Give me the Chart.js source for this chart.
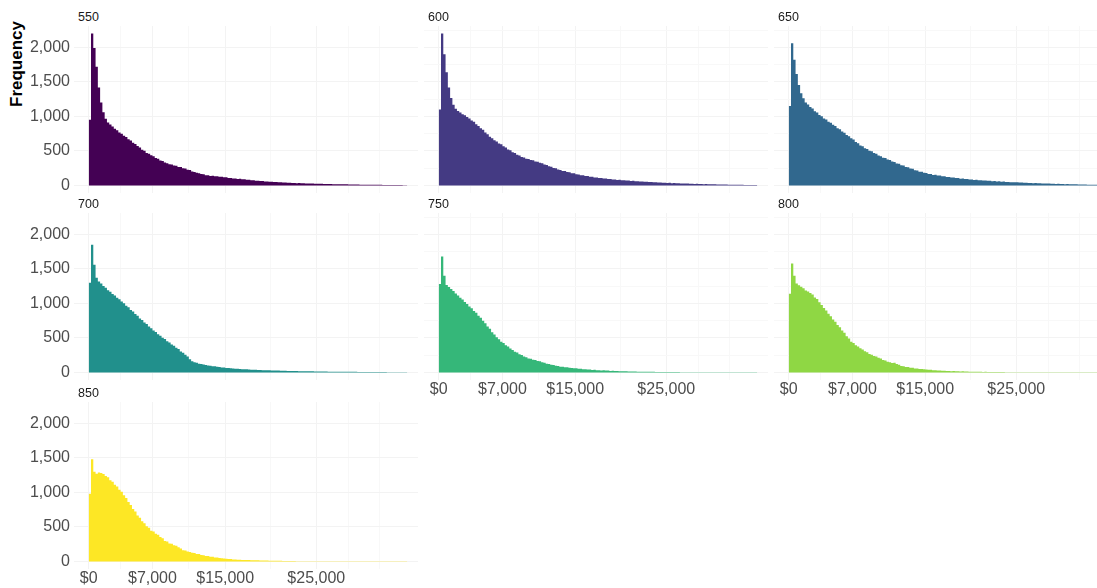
<!DOCTYPE html>
<html>
<head>
<meta charset="utf-8">
<script src="https://cdn.jsdelivr.net/npm/chart.js@4.4.1/dist/chart.umd.min.js"></script>
<style>
  html, body { margin: 0; padding: 0; background: #fff; }
  body { width: 1097px; height: 588px; position: relative; overflow: hidden; font-family: "Liberation Sans", Arial, sans-serif; }
  canvas { position: absolute; }
  .strip { position: absolute; font-size: 12.5px; line-height: 14px; color: #1a1a1a; white-space: nowrap; }
  #ytitle { position: absolute; left: -33px; top: 54px; width: 100px; height: 20px; line-height: 20px;
            text-align: center; font-weight: bold; font-size: 17px; color: #000; transform: rotate(-90deg); }
</style>
</head>
<body>
<div id="ytitle">Frequency</div>
<script>
// histogram bins of $250, starting at $0
const BIN_WIDTH = 250;

const scoreGroups = ['550', '600', '650', '700', '750', '800', '850'];
const groupColors = ['#440154', '#443a83', '#31688e', '#21908c', '#35b779', '#8fd744', '#fde725'];

const counts550 = [
  950, 2200, 1990, 1720, 1420, 1200, 1060, 965, 912, 884,
  852, 820, 798, 768, 748, 720, 701, 668, 652, 618,
  601, 570, 551, 518, 502, 468, 458, 436, 423, 398,
  388, 362, 355, 331, 322, 306, 302, 288, 284, 268,
  266, 250, 244, 226, 223, 202, 196, 182, 178, 164,
  162, 148, 147, 138, 140, 131, 132, 124, 126, 117,
  118, 109, 108, 101, 100, 94, 95, 88, 88, 82,
  81, 75, 75, 69, 68, 63, 63, 58, 58, 53,
  53, 49, 49, 45, 46, 42, 42, 39, 39, 35,
  36, 33, 34, 30, 31, 28, 29, 26, 27, 25,
  24, 23, 23, 21, 22, 19, 20, 18, 18, 17,
  16, 16, 15, 15, 14, 13, 14, 12, 12, 11,
  11, 10, 11, 9, 10, 9, 8, 9, 8, 7,
  7, 7, 6, 6, 6, 5, 5, 5, 4, 4
];
const counts600 = [
  1100, 2200, 1900, 1640, 1420, 1265, 1168, 1112, 1078, 1058,
  1032, 1018, 990, 971, 942, 921, 888, 862, 830, 805,
  768, 741, 704, 683, 654, 635, 607, 595, 567, 551,
  522, 508, 482, 469, 445, 433, 412, 406, 387, 383,
  367, 363, 347, 343, 327, 321, 302, 295, 277, 271,
  253, 247, 229, 225, 209, 207, 193, 190, 177, 175,
  161, 159, 148, 147, 138, 136, 126, 124, 116, 116,
  108, 108, 100, 99, 92, 92, 86, 86, 80, 81,
  75, 75, 70, 71, 65, 66, 60, 61, 56, 57,
  52, 53, 48, 49, 45, 46, 42, 43, 39, 40,
  36, 37, 33, 34, 30, 31, 28, 29, 26, 27,
  24, 25, 22, 23, 20, 21, 18, 19, 17, 17,
  16, 15, 14, 14, 13, 12, 12, 11, 10, 10,
  9, 9, 8, 8, 7, 7, 6, 6, 5, 5
];
const counts650 = [
  1150, 2060, 1820, 1615, 1455, 1335, 1262, 1200, 1174, 1136,
  1114, 1076, 1056, 1021, 1002, 971, 956, 924, 909, 878,
  861, 828, 812, 781, 764, 731, 714, 682, 664, 630,
  612, 578, 566, 538, 526, 501, 494, 468, 459, 434,
  424, 401, 396, 374, 368, 346, 340, 318, 314, 292,
  288, 268, 264, 244, 240, 220, 216, 198, 197, 182,
  181, 166, 166, 152, 153, 142, 142, 132, 132, 123,
  123, 114, 114, 106, 106, 98, 99, 92, 93, 86,
  86, 80, 81, 75, 76, 70, 71, 66, 67, 62,
  63, 57, 59, 53, 55, 50, 51, 46, 47, 44,
  44, 41, 41, 38, 38, 35, 36, 33, 34, 30,
  31, 28, 29, 26, 27, 24, 25, 22, 23, 20,
  21, 18, 19, 16, 17, 15, 15, 13, 14, 12,
  12, 11, 11, 10, 10, 9, 9, 8, 8, 7
];
const counts700 = [
  1300, 1850, 1560, 1370, 1318, 1288, 1252, 1228, 1192, 1168,
  1137, 1115, 1082, 1061, 1027, 1003, 967, 944, 905, 881,
  845, 822, 782, 758, 723, 700, 665, 641, 607, 587,
  553, 533, 502, 483, 453, 435, 405, 388, 357, 338,
  302, 285, 255, 232, 190, 162, 149, 141, 127, 121,
  113, 109, 101, 97, 90, 88, 81, 79, 72, 70,
  65, 63, 59, 57, 53, 52, 49, 47, 45, 44,
  41, 40, 38, 37, 36, 35, 33, 32, 31, 30,
  29, 28, 27, 26, 25, 24, 23, 22, 21, 20,
  20, 19, 18, 18, 17, 16, 16, 15, 15, 14,
  14, 13, 13, 12, 12, 11, 11, 11, 10, 10,
  10, 9, 9, 9, 9, 8, 8, 8, 7, 7,
  7, 7, 6, 6, 6, 6, 5, 5, 5, 5,
  5, 4, 4, 4, 4, 4, 4, 3, 3, 3
];
const counts750 = [
  1280, 1680, 1400, 1268, 1238, 1207, 1178, 1142, 1115, 1082,
  1058, 1019, 993, 955, 928, 890, 863, 822, 793, 747,
  711, 665, 631, 582, 548, 509, 481, 445, 425, 395,
  375, 345, 325, 298, 287, 263, 253, 231, 221, 201,
  197, 183, 180, 167, 162, 147, 140, 126, 122, 111,
  108, 96, 92, 83, 82, 74, 73, 66, 65, 59,
  59, 53, 53, 47, 47, 41, 41, 36, 37, 33,
  33, 29, 30, 26, 27, 22, 23, 19, 20, 17,
  18, 15, 16, 13, 14, 12, 13, 11, 11, 10,
  10, 9, 9, 8, 8, 7, 7, 6, 6, 6,
  6, 5, 5, 5, 5, 5, 4, 4, 4, 4,
  4, 4, 4, 4, 3, 3, 3, 3, 3, 3,
  3, 3, 3, 3, 3, 3, 3, 3, 3, 3,
  3, 3, 3, 3, 3, 3, 3, 3, 3, 3
];
const counts800 = [
  1140, 1580, 1400, 1288, 1262, 1243, 1218, 1188, 1174, 1152,
  1128, 1087, 1063, 1017, 978, 932, 898, 849, 815, 767,
  733, 687, 653, 607, 573, 525, 491, 445, 425, 395,
  377, 349, 333, 307, 293, 267, 257, 237, 229, 211,
  201, 179, 172, 155, 148, 138, 140, 122, 112, 94,
  88, 78, 77, 68, 67, 58, 58, 50, 50, 44,
  43, 38, 38, 33, 33, 28, 28, 24, 25, 21,
  22, 18, 19, 16, 17, 14, 15, 12, 13, 11,
  11, 9, 10, 8, 9, 7, 8, 6, 7, 6,
  6, 5, 5, 5, 5, 4, 4, 4, 4, 3,
  3, 3, 3, 3, 3, 3, 3, 3, 3, 3,
  2, 2, 2, 2, 2, 2, 2, 2, 2, 2,
  2, 2, 2, 2, 2, 2, 2, 2, 2, 2,
  2, 2, 2, 2, 2, 2, 2, 2, 2, 2
];
const counts850 = [
  980, 1480, 1300, 1272, 1288, 1282, 1268, 1236, 1218, 1176,
  1153, 1110, 1085, 1040, 1008, 957, 918, 860, 818, 760,
  722, 665, 632, 583, 552, 510, 486, 445, 432, 400,
  388, 352, 334, 296, 288, 260, 255, 234, 227, 205,
  186, 162, 157, 142, 138, 125, 122, 109, 106, 93,
  90, 80, 77, 68, 66, 57, 56, 48, 47, 41,
  40, 35, 34, 29, 29, 25, 25, 21, 21, 19,
  19, 17, 17, 15, 15, 14, 14, 12, 12, 10,
  10, 9, 9, 8, 8, 7, 7, 6, 6, 5,
  5, 4, 4, 4, 4, 3, 3, 3, 3, 3,
  3, 3, 3, 3, 2, 2, 2, 2, 2, 2,
  2, 2, 2, 2, 2, 2, 2, 2, 2, 2,
  2, 2, 2, 2, 2, 2, 2, 2, 2, 2,
  2, 2, 2, 2, 2, 2, 2, 2, 2, 2
];
const allCounts = [counts550, counts600, counts650, counts700, counts750, counts800, counts850];

// gridlines (major + minor) and the ones that carry a label
const yGridValues = [0, 250, 500, 750, 1000, 1250, 1500, 1750, 2000, 2250];
const yLabelValues = [0, 500, 1000, 1500, 2000];
const xGridValues = [0, 3500, 7000, 11000, 15000, 20000, 25000, 28500, 32000];
const xLabelValues = [0, 7000, 15000, 25000];

const Y_MIN = -110, Y_MAX = 2310;
const X_MIN = -1620, X_MAX = 36180;

// panel geometry (px)
const PANEL_W = 344, PANEL_H = 167, AXIS_W = 74, AXIS_H = 30;
const colLeft = [74, 424, 774];
const rowTop = [26, 213, 402];
const FONT = '"Liberation Sans", Arial, sans-serif';

const fmt = v => v.toLocaleString('en-US');

function toPoints(counts) {
  const pts = counts.map((c, i) => ({ x: i * BIN_WIDTH, y: c }));
  pts.push({ x: counts.length * BIN_WIDTH, y: counts[counts.length - 1] });
  return pts;
}

// very faint, like theme_minimal after downscaling
function gridColor(majors) {
  return ctx => (ctx.tick && majors.includes(ctx.tick.value)) ? '#f3f3f3' : '#f8f8f8';
}

scoreGroups.forEach((name, i) => {
  const row = Math.floor(i / 3), col = i % 3;
  const showY = col === 0;
  const showX = i >= 4;

  const canvas = document.createElement('canvas');
  canvas.width = AXIS_W + PANEL_W;
  canvas.height = PANEL_H + AXIS_H;
  canvas.style.left = (colLeft[col] - AXIS_W) + 'px';
  canvas.style.top = rowTop[row] + 'px';
  document.body.appendChild(canvas);

  const strip = document.createElement('div');
  strip.className = 'strip';
  strip.textContent = name;
  strip.style.left = (colLeft[col] + 4) + 'px';
  strip.style.top = (rowTop[row] - 16) + 'px';
  document.body.appendChild(strip);

  new Chart(canvas, {
    type: 'line',
    data: {
      datasets: [{
        data: toPoints(allCounts[i]),
        stepped: 'before',
        fill: 'origin',
        backgroundColor: groupColors[i],
        borderColor: 'rgba(0,0,0,0)',
        borderWidth: 0,
        pointRadius: 0,
        tension: 0
      }]
    },
    options: {
      responsive: false,
      animation: false,
      events: [],
      layout: { autoPadding: false, padding: 0 },
      plugins: { legend: { display: false }, tooltip: { enabled: false } },
      scales: {
        x: {
          type: 'linear',
          min: X_MIN,
          max: X_MAX,
          border: { display: false },
          grid: { color: gridColor(xLabelValues), drawTicks: false },
          ticks: {
            display: showX,
            autoSkip: false,
            maxRotation: 0,
            padding: 0,
            color: '#4d4d4d',
            font: { size: 16, family: FONT },
            callback: v => xLabelValues.includes(v) ? '$' + fmt(v) : ''
          },
          afterBuildTicks: ax => { ax.ticks = xGridValues.map(v => ({ value: v })); },
          afterFit: ax => { ax.height = AXIS_H; ax.paddingLeft = 0; ax.paddingRight = 0; }
        },
        y: {
          min: Y_MIN,
          max: Y_MAX,
          border: { display: false },
          grid: { color: gridColor(yLabelValues), drawTicks: false },
          ticks: {
            display: showY,
            padding: 4,
            color: '#4d4d4d',
            font: { size: 16, family: FONT },
            callback: v => yLabelValues.includes(v) ? fmt(v) : ''
          },
          afterBuildTicks: ax => { ax.ticks = yGridValues.map(v => ({ value: v })); },
          afterFit: ax => { ax.width = AXIS_W; ax.paddingTop = 0; ax.paddingBottom = 0; }
        }
      }
    }
  });
});
</script>
</body>
</html>
